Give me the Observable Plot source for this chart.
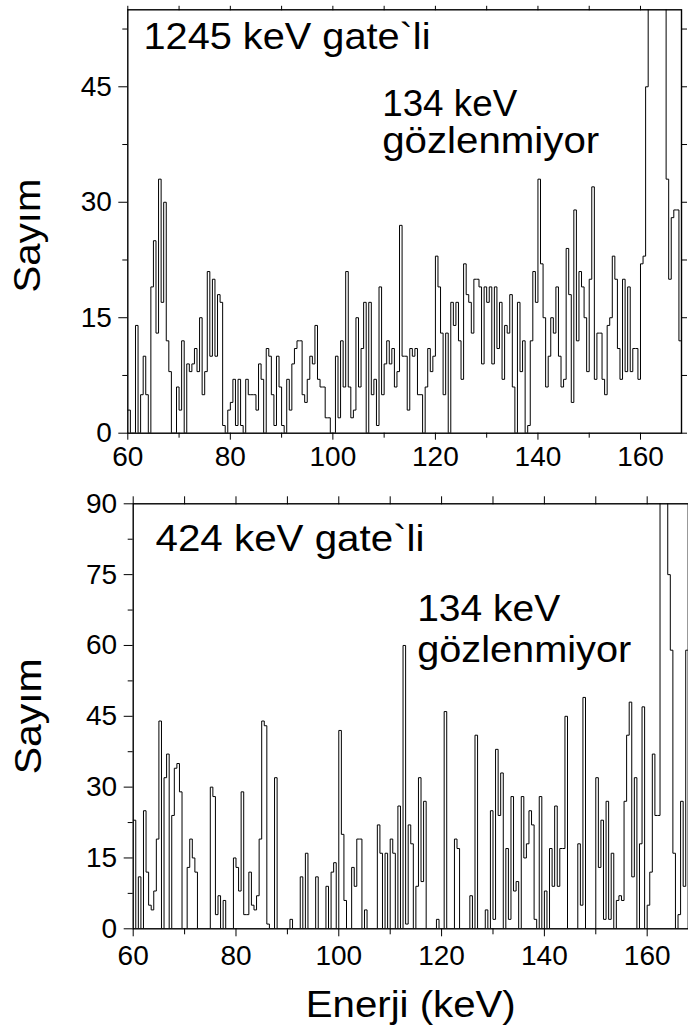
<!DOCTYPE html>
<html><head><meta charset="utf-8">
<script src="https://cdn.jsdelivr.net/npm/d3@7"></script>
<script src="https://cdn.jsdelivr.net/npm/@observablehq/plot@0.6"></script>
<style>
html,body{margin:0;padding:0;background:#fff;}
#wrap{position:relative;width:688px;height:1028px;overflow:hidden;background:#fff;}
#wrap svg{position:absolute;left:0;}
</style></head><body><div id="wrap"></div>
<script>
// bins: 0.5 keV wide, starting at 60 keV
const energyStart = 60;
const binWidth = 0.5;

// 1245 keV gate (top panel), counts per 0.5 keV bin from 60 to 168 keV
const topCounts = [
3,0,0,14,0,5,10,5,0,19, 25,13,33,17,30,12,8,0,0,6,
3,12,0,9,8,9,11,8,15,5, 8,21,10,20,10,18,17,1,0,3,
4,7,1,7,1,0,7,5,5,5, 3,9,7,0,11,10,5,1,10,6,
1,0,7,3,9,11,12,12,5,4, 7,10,9,14,7,6,6,2,2,0,
0,10,2,12,6,21,6,2,3,15, 6,11,17,0,17,5,7,1,19,5,
9,12,9,11,6,8,27,10,10,3, 11,10,11,5,5,0,6,11,8,10,
23,19,13,5,13,0,17,14,17,12, 7,22,18,17,13,20,20,19,9,19,
17,19,9,19,11,17,7,14,13,18, 6,0,17,8,12,0,1,12,21,17,
33,22,15,6,10,15,13,19,10,6, 7,24,18,4,29,12,21,19,15,8,
20,32,7,13,13,7,5,14,15,23, 20,11,7,20,8,19,8,11,11,7,
22,23,45,70,110,150,160,130,95,65, 33,20,28,29,29,12
];

// 424 keV gate (bottom panel)
const bottomCounts = [
23,0,11,0,25,12,5,4,8,19, 44,0,32,37,0,24,34,35,29,0,
0,13,19,15,12,0,0,0,0,0, 30,28,3,7,0,6,0,0,0,15,
13,8,29,3,3,12,5,4,7,19, 44,43,1,0,0,32,0,0,0,0,
0,2,0,0,0,11,0,16,0,0, 0,11,0,0,0,9,0,12,14,0,
42,20,6,0,0,13,9,19,19,0, 4,0,0,0,0,22,16,0,16,0,
19,16,0,26,0,60,1,22,18,0, 9,32,10,27,0,0,0,0,2,0,
0,46,0,0,0,19,17,0,0,0, 0,7,0,41,0,0,0,4,0,25,
2,38,24,33,0,17,2,28,8,10, 0,28,15,18,25,22,2,0,28,0,
8,0,17,9,26,9,17,17,45,0, 0,0,0,18,5,49,0,0,0,0,
32,13,23,2,27,2,16,0,6,7, 6,27,41,48,11,32,0,18,47,0,
5,12,37,24,24,120,160,130,75,59, 16,0,3,27,9,59
];

const xTickLabels = [60, 80, 100, 120, 140, 160];
const xMinorTicks = [70, 90, 110, 130, 150];
const xAllTicks = [60, 70, 80, 90, 100, 110, 120, 130, 140, 150, 160];
const topYTicks = [0, 15, 30, 45];
const topYMinor = [7.5, 22.5, 37.5, 52.5];
const bottomYTicks = [0, 15, 30, 45, 60, 75, 90];
const bottomYMinor = [7.5, 22.5, 37.5, 52.5, 67.5, 82.5];
const topGate = ["1245 keV gate`li"];
const bottomGate = ["424 keV gate`li"];
const noteLine1 = ["134 keV"];
const noteLine2 = ["gözlenmiyor"];
const yTitle = ["Sayım"];
const xTitle = ["Enerji (keV)"];

const FONT = "'Liberation Sans', Arial, Helvetica, sans-serif";

function steps(counts) {
  const pts = counts.map((c, i) => ({energy: energyStart + i * binWidth, count: c}));
  pts.push({energy: energyStart + counts.length * binWidth, count: counts[counts.length - 1]});
  return pts;
}

function panel(o) {
  const blank = () => "";
  const marks = [
    Plot.line(steps(o.counts), {x: "energy", y: "count", curve: "step-after", stroke: "#000", strokeWidth: 1, clip: true}),
    Plot.frame({stroke: "#000", strokeWidth: 1.4}),
    Plot.axisX(xTickLabels, {anchor: "bottom", tickSize: o.xTickMajor, tickPadding: o.xPad, fontSize: 28, label: null, tickFormat: d => String(d)}),
    Plot.axisX(xMinorTicks, {anchor: "bottom", tickSize: o.xTickMinor, tickFormat: blank, label: null}),
    Plot.axisX(xAllTicks, {anchor: "top", tickSize: o.topTick, tickFormat: blank, label: null}),
    Plot.axisY(o.yTicks, {anchor: "left", tickSize: 9, tickPadding: 7, fontSize: 28, label: null, tickFormat: d => String(d)}),
    Plot.axisY(o.yMinor, {anchor: "left", tickSize: 5, tickFormat: blank, label: null}),
    Plot.axisY(o.yTicks.concat(o.yMinor), {anchor: "right", tickSize: 5, tickFormat: blank, label: null}),
    Plot.text(o.gate, {text: d => d, frameAnchor: "top-left", dx: o.gateDx, dy: o.gateDy, textAnchor: "start", lineAnchor: "bottom", fontSize: 36, fill: "#000"}),
    Plot.text(noteLine1, {text: d => d, frameAnchor: "top-left", dx: o.noteDx, dy: o.noteDy1, textAnchor: "start", lineAnchor: "bottom", fontSize: 36, fill: "#000"}),
    Plot.text(noteLine2, {text: d => d, frameAnchor: "top-left", dx: o.noteDx, dy: o.noteDy2, textAnchor: "start", lineAnchor: "bottom", fontSize: 36, fill: "#000"}),
    Plot.text(yTitle, {text: d => d, frameAnchor: "left", dx: o.yTitleDx, dy: o.yTitleDy, rotate: -90, textAnchor: "middle", lineAnchor: "middle", fontSize: 37, fill: "#000"})
  ];
  if (o.xTitle) marks.push(Plot.text(xTitle, {text: d => d, frameAnchor: "bottom", dy: o.xTitleDy, textAnchor: "middle", lineAnchor: "bottom", fontSize: 37, fill: "#000"}));
  const svg = Plot.plot({
    width: 688,
    height: o.height,
    marginLeft: o.ml, marginRight: o.mr, marginTop: o.mt, marginBottom: o.mb,
    x: {domain: [60, 168]},
    y: {domain: [0, o.yMax]},
    style: {fontFamily: FONT, fontSize: "28px", color: "#000", background: "transparent", overflow: "visible"},
    marks
  });
  // stretch the big labels to the widths they have in the original figure
  svg.querySelectorAll("text").forEach(t => {
    const w = o.fit[t.textContent];
    if (w) { t.setAttribute("textLength", w); t.setAttribute("lengthAdjust", "spacingAndGlyphs"); }
  });
  return svg;
}

const wrap = document.getElementById("wrap");

const topPanel = panel({
  counts: topCounts, yMax: 55, yTicks: topYTicks, yMinor: topYMinor,
  height: 470, ml: 127.3, mr: 7, mt: 9.3, mb: 37.3,
  xTickMajor: 7, xTickMinor: 5, xPad: 6, topTick: 4.5,
  gate: topGate, gateDx: 15.7, gateDy: 39,
  noteDx: 254.4, noteDy1: 105.7, noteDy2: 142.7,
  yTitleDx: -100, yTitleDy: 14,
  fit: {"1245 keV gate`li": 287, "134 keV": 135, "gözlenmiyor": 217, "Sayım": 114}
});
topPanel.style.top = "0px";
wrap.appendChild(topPanel);

const bottomPanel = panel({
  counts: bottomCounts, yMax: 90, yTicks: bottomYTicks, yMinor: bottomYMinor,
  height: 558, ml: 132.7, mr: 0.2, mt: 33.3, mb: 99.7,
  xTickMajor: 8, xTickMinor: 6, xPad: 8.7, topTick: 8,
  gate: bottomGate, gateDx: 22.3, gateDy: 46.7,
  noteDx: 284, noteDy1: 116.7, noteDy2: 158.4,
  yTitleDx: -104, yTitleDy: 0,
  xTitle: true, xTitleDy: 87.7,
  fit: {"424 keV gate`li": 269, "134 keV": 143, "gözlenmiyor": 214, "Sayım": 116, "Enerji (keV)": 210}
});
bottomPanel.style.top = "470px";
wrap.appendChild(bottomPanel);
</script>
</body></html>
